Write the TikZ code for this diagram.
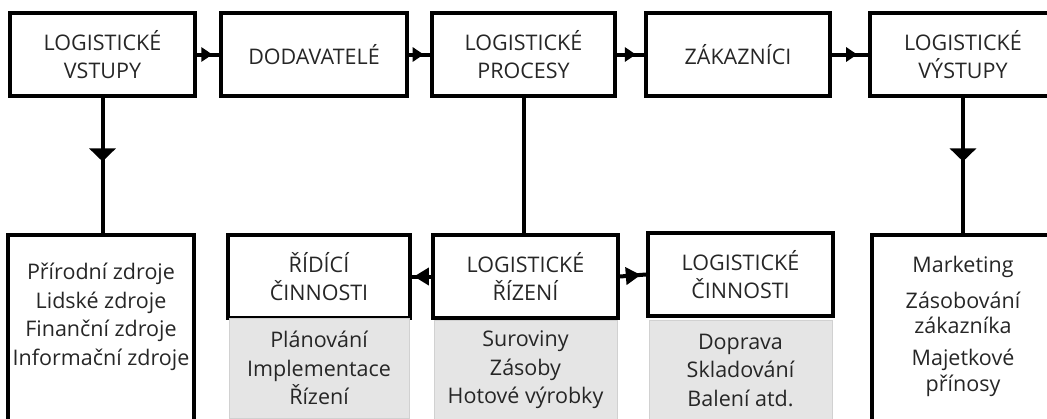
\documentclass[tikz,border=0pt]{standalone}
\usepackage{fontspec}
\setmainfont{Open Sans}
\usetikzlibrary{arrows.meta,decorations.markings}
\newcommand\boxfont{\fontsize{21.5}{28.5}\selectfont}
\begin{document}
\begin{tikzpicture}[x=1pt,y=-1pt,
  box/.style={draw=black, line width=4pt, rectangle, inner sep=0pt, align=center, text=black!85, font=\boxfont},
  txt/.style={inner sep=0pt, align=center, text=black!85, font=\boxfont},
  graybox/.style={draw=black!18, line width=0.8pt, fill=black!10, inner sep=0pt, align=center, text=black!85, font=\boxfont},
  link/.style={line width=4pt},
  smallhead/.style={postaction={decorate}, decoration={markings, mark=at position #1 with {\arrow{Triangle[length=11pt,width=14pt]}}}},
  widehead/.style={postaction={decorate}, decoration={markings, mark=at position #1 with {\arrow{Triangle[length=13pt,width=26pt]}}}},
  sidehead/.style={postaction={decorate}, decoration={markings, mark=at position #1 with {\arrow{Triangle[length=15pt,width=17pt]}}}}
]
\useasboundingbox (0,0) rectangle (1047,418);
\clip (0,0) rectangle (1047,418);
% top row
\node[box, minimum width=185pt, minimum height=83pt] (b1) at (102.5,54.5) {LOGISTICKÉ\\VSTUPY};
\node[box, minimum width=186pt, minimum height=83pt] (b2) at (314,54.5) {DODAVATELÉ};
\node[box, minimum width=183pt, minimum height=83pt] (b3) at (523.5,54.5) {LOGISTICKÉ\\PROCESY};
\node[box, minimum width=184pt, minimum height=83pt] (b4) at (738,54.5) {ZÁKAZNÍCI};
\node[box, minimum width=186pt, minimum height=83pt] (b5) at (963,54.5) {LOGISTICKÉ\\VÝSTUPY};
% bottom row
\node[box, minimum width=186pt, minimum height=240pt] (b6) at (101,355) {};
\node[txt] (t6) at (101,317) {Přírodní zdroje\\Lidské zdroje\\Finanční zdroje\\Informační zdroje};
\node[box, minimum width=182pt, minimum height=83pt] (r1) at (319,276.5) {ŘÍDÍCÍ\\ČINNOSTI};
\node[box, minimum width=185pt, minimum height=83pt] (r2) at (525.5,276.5) {LOGISTICKÉ\\ŘÍZENÍ};
\node[box, minimum width=185pt, minimum height=83pt] (r3) at (740.5,274.5) {LOGISTICKÉ\\ČINNOSTI};
\node[graybox, minimum width=180pt, minimum height=100pt] (g1) at (319,368) {Plánování\\Implementace\\Řízení};
\node[graybox, minimum width=183pt, minimum height=100pt] (g2) at (525.5,370) {Suroviny\\Zásoby\\Hotové výrobky};
\node[graybox, minimum width=183pt, minimum height=100pt] (g3) at (740.5,370) {Doprava\\Skladování\\Balení atd.};
\node[box, minimum width=182pt, minimum height=240pt] (b10) at (963,355) {};
\node[txt] (t10) at (963,267) {Marketing};
\node[txt, font=\fontsize{21.5}{25}\selectfont] (t10b) at (963,313) {Zásobování\\zákazníka};
\node[txt, font=\fontsize{21.5}{26}\selectfont] (t10c) at (963,373) {Majetkové\\přínosy};
% connectors
\draw[link, smallhead=0.7] (b1.east) -- (b2.west);
\draw[link, smallhead=0.7] (b2.east) -- (b3.west);
\draw[link, smallhead=0.7] (b3.east) -- (b4.west);
\draw[link, smallhead=0.7] (b4.east) -- (b5.west);
\draw[link, widehead=0.47] (b1.south) -- (b1.south |- b6.north);
\draw[link] (b3.south) -- (b3.south |- r2.north);
\draw[link, widehead=0.47] (b5.south) -- (b5.south |- b10.north);
\draw[link, sidehead=0.9] (r2.west) -- (r1.east);
\draw[link, sidehead=0.8] (r2.east) -- (r3.west);
\end{tikzpicture}
\end{document}
